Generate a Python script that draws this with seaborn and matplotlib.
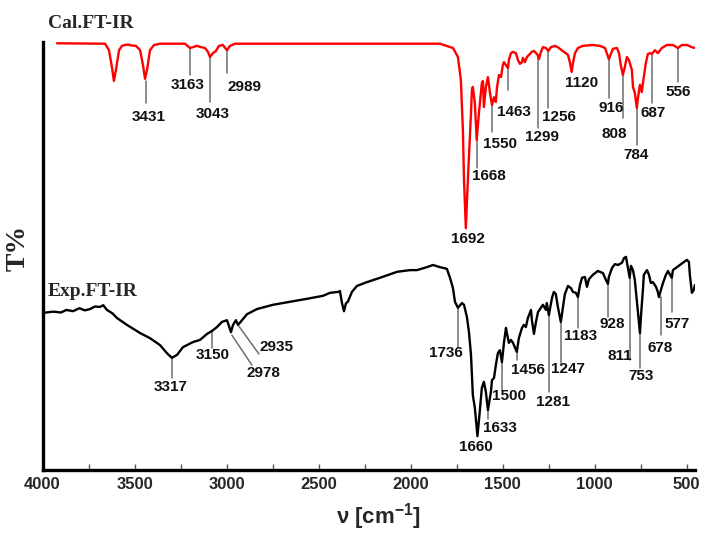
import matplotlib
matplotlib.use("Agg")
import matplotlib.pyplot as plt
from matplotlib.ticker import MultipleLocator
import pandas as pd
import seaborn as sns

# Calculated spectrum (wavenumber, T%)
cal_wn = [3921, 3660, 3639, 3622, 3612, 3601, 3584, 3568, 3552, 3536, 3519, 3492,
          3470, 3454, 3443, 3432, 3416, 3394, 3362, 3226, 3199, 3182, 3161, 3139,
          3117, 3101, 3090, 3074, 3058, 3041, 3020, 2998, 2981, 2954, 1841, 1770,
          1743, 1727, 1716, 1710, 1700, 1689, 1672, 1667, 1662, 1651, 1641, 1629,
          1613, 1607, 1602, 1591, 1580, 1569, 1558, 1547, 1537, 1531, 1520, 1509,
          1499, 1493, 1482, 1471, 1466, 1455, 1444, 1428, 1417, 1406, 1395, 1390,
          1379, 1368, 1357, 1341, 1330, 1310, 1303, 1292, 1281, 1265, 1252, 1238,
          1216, 1194, 1189, 1173, 1156, 1145, 1135, 1125, 1118, 1107, 1091, 1064,
          1010, 972, 944, 934, 923, 912, 901, 879, 868, 858, 847, 836, 825, 814,
          798, 792, 782, 771, 765, 754, 744, 738, 722, 711, 700, 689, 673, 657,
          635, 608, 575, 548, 526, 499, 472, 456]
cal_t = [99.7, 99.6, 98.1, 93.9, 90.9, 93.5, 98.1, 99.1, 99.3, 99.4, 99.2, 99.1,
         98.1, 94.6, 91.4, 93.5, 98.1, 99.3, 99.6, 99.6, 98.6, 98.8, 99.1, 98.8,
         98.6, 97.7, 96.5, 97.4, 97.9, 99.1, 99.3, 98.1, 99.1, 99.6, 99.6, 98.6,
         96.5, 91.1, 79.4, 67.8, 56.5, 67.8, 83.4, 88.8, 89.5, 85.7, 77.1, 83.4,
         90.4, 90.9, 84.8, 89.5, 91.8, 88.1, 85.3, 87.1, 86.0, 89.3, 92.3, 91.8,
         94.6, 95.3, 94.6, 93.9, 95.8, 97.4, 97.7, 97.4, 95.8, 94.9, 95.3, 96.3,
         95.3, 96.5, 97.0, 97.7, 97.9, 97.0, 96.0, 97.7, 98.8, 98.6, 97.9, 98.8,
         99.1, 98.6, 98.4, 97.9, 97.4, 97.0, 95.3, 93.0, 95.1, 97.4, 98.6, 99.1,
         99.3, 99.1, 98.6, 97.4, 96.0, 97.2, 98.4, 98.6, 97.4, 94.6, 92.3, 94.2,
         96.5, 95.8, 93.5, 89.5, 88.1, 84.6, 86.9, 90.0, 88.3, 90.4, 95.1, 97.2,
         97.4, 97.2, 98.1, 97.4, 98.6, 99.3, 99.3, 98.6, 99.3, 99.3, 98.8, 98.6]

# Experimental spectrum (wavenumber, T%)
exp_wn = [4000, 3940, 3900, 3870, 3834, 3800, 3770, 3742, 3715, 3688, 3670, 3650,
          3620, 3595, 3541, 3470, 3416, 3362, 3324, 3297, 3269, 3237, 3182, 3144,
          3106, 3079, 3052, 3025, 2998, 2992, 2976, 2965, 2949, 2938, 2916, 2889,
          2835, 2748, 2656, 2563, 2476, 2438, 2395, 2384, 2373, 2362, 2351, 2341,
          2319, 2292, 2237, 2167, 2074, 2004, 1966, 1911, 1879, 1841, 1803, 1786,
          1770, 1759, 1743, 1721, 1710, 1694, 1683, 1672, 1662, 1651, 1637, 1626,
          1613, 1602, 1591, 1580, 1564, 1558, 1547, 1537, 1526, 1515, 1504, 1493,
          1482, 1477, 1466, 1455, 1444, 1439, 1423, 1412, 1395, 1385, 1374, 1363,
          1346, 1341, 1330, 1319, 1308, 1292, 1281, 1265, 1260, 1249, 1232, 1222,
          1211, 1200, 1184, 1173, 1162, 1145, 1129, 1118, 1102, 1091, 1080, 1069,
          1053, 1042, 1031, 1010, 983, 955, 939, 928, 923, 906, 890, 874, 852, 841,
          830, 820, 810, 803, 792, 782, 771, 765, 754, 749, 738, 733, 716, 705, 695,
          684, 667, 657, 651, 640, 629, 613, 602, 581, 575, 553, 537, 521, 499, 488,
          483, 472, 461, 456]
exp_t = [36.7, 37.0, 36.8, 37.4, 37.1, 37.8, 37.3, 37.6, 38.2, 38.1, 38.5, 37.4,
         36.6, 35.5, 33.9, 32.0, 30.8, 29.2, 27.3, 26.2, 26.9, 28.7, 29.9, 30.4,
         31.8, 32.5, 33.4, 34.6, 35.0, 34.3, 32.2, 33.9, 35.0, 33.9, 35.0, 36.4,
         37.6, 38.6, 39.3, 40.0, 40.7, 41.4, 41.6, 41.8, 39.0, 37.1, 39.0, 39.3,
         41.6, 43.0, 43.9, 44.9, 46.3, 46.7, 46.7, 47.4, 47.9, 47.4, 47.0, 44.9,
         42.5, 39.3, 37.9, 39.0, 38.6, 35.7, 32.2, 26.9, 17.5, 14.5, 7.9, 12.9,
         19.2, 20.6, 18.2, 14.0, 18.2, 21.0, 21.5, 24.5, 27.3, 28.0, 25.2, 29.7,
         33.2, 32.0, 29.7, 30.4, 29.7, 29.2, 27.6, 30.8, 33.2, 33.9, 33.4, 35.5,
         37.4, 35.0, 31.8, 34.6, 36.9, 37.9, 38.6, 37.4, 39.0, 36.2, 40.2, 41.6,
         41.1, 38.1, 34.6, 37.9, 41.1, 43.0, 42.5, 41.6, 41.4, 40.4, 43.2, 44.9,
         45.1, 42.8, 44.6, 45.6, 46.5, 46.0, 44.4, 43.5, 45.1, 47.2, 48.1, 47.9,
         48.4, 49.5, 49.8, 47.4, 44.9, 47.7, 46.7, 44.4, 39.7, 36.9, 32.0, 35.7,
         42.1, 45.6, 46.7, 45.6, 43.7, 43.9, 42.8, 41.6, 40.4, 42.1, 43.7, 45.6,
         46.5, 44.9, 46.7, 47.4, 47.9, 48.4, 49.1, 48.6, 45.6, 41.4, 42.1, 43.2]

# Peak labels: (text, line from (x0, y0) to (x1, y1), text centre (tx, ty))
cal_notes = [
    ("3431", 3438, 90.9, 3438, 85.7, 3421, 82.5),
    ("3163", 3199, 98.6, 3199, 92.3, 3210, 90.0),
    ("3043", 3090, 96.5, 3090, 86.0, 3074, 83.2),
    ("2989", 2998, 98.1, 2998, 92.8, 2905, 89.5),
    ("1692", None, None, None, None, 1690, 54.0),
    ("1668", 1641, 77.1, 1641, 70.6, 1575, 68.7),
    ("1550", 1558, 85.3, 1558, 79.0, 1515, 76.2),
    ("1463", 1471, 93.9, 1471, 88.8, 1439, 83.6),
    ("1299", 1310, 97.0, 1310, 79.9, 1287, 77.8),
    ("1256", 1252, 97.9, 1252, 84.6, 1194, 82.5),
    ("1120", None, None, None, None, 1069, 90.4),
    ("916", 923, 96.0, 923, 86.9, 912, 84.6),
    ("808", 847, 92.3, 847, 82.2, 896, 78.5),
    ("784", 771, 84.6, 771, 75.9, 776, 73.6),
    ("687", 689, 97.2, 689, 85.7, 684, 83.4),
    ("556", 548, 98.6, 548, 90.7, 548, 88.3),
]
exp_notes = [
    ("3317", 3297, 26.2, 3297, 21.5, 3302, 19.4),
    ("3150", 3079, 32.5, 3079, 28.5, 3074, 26.9),
    ("2978", 2971, 31.5, 2862, 24.5, 2797, 22.7),
    ("2935", 2933, 33.6, 2824, 27.1, 2726, 28.7),
    ("1736", 1743, 37.9, 1743, 28.7, 1808, 27.3),
    ("1660", None, None, None, None, 1645, 5.4),
    ("1633", 1580, 14.0, 1580, 12.0, 1515, 9.8),
    ("1500", 1501, 25.2, 1501, 18.7, 1466, 17.3),
    ("1456", 1423, 27.6, 1423, 25.7, 1363, 23.4),
    ("1281", 1249, 36.2, 1249, 18.2, 1227, 15.9),
    ("1247", 1184, 34.6, 1184, 24.5, 1145, 23.6),
    ("1183", 1091, 40.4, 1091, 33.2, 1075, 31.3),
    ("928", 928, 43.5, 928, 35.7, 906, 34.1),
    ("811", 809, 44.9, 809, 25.7, 863, 26.6),
    ("753", 752, 32.0, 752, 23.8, 749, 22.0),
    ("678", 640, 40.4, 640, 31.5, 646, 28.5),
    ("577", 581, 44.9, 581, 36.9, 553, 34.1),
]

sns.set_style("white")
sans = ["Liberation Sans", "DejaVu Sans"]
plt.rcParams["font.family"] = sans
plt.rcParams["mathtext.fontset"] = "custom"
plt.rcParams["mathtext.rm"] = "Liberation Sans:bold"
plt.rcParams["mathtext.bf"] = "Liberation Sans:bold"
plt.rcParams["mathtext.default"] = "bf"

cal_df = pd.DataFrame({"wn": cal_wn, "T": cal_t})
exp_df = pd.DataFrame({"wn": exp_wn, "T": exp_t})

fig = plt.figure(figsize=(7.01, 5.33), dpi=100)
ax = fig.add_axes([42.5 / 701, 63 / 533, 652.5 / 701, 428 / 533])

sns.lineplot(data=cal_df, x="wn", y="T", ax=ax, color="#ff0000", lw=1.7,
             sort=False, estimator=None)
sns.lineplot(data=exp_df, x="wn", y="T", ax=ax, color="black", lw=1.7,
             sort=False, estimator=None)

lead = "#6e6e6e"
for notes in (cal_notes, exp_notes):
    for lab, x0, y0, x1, y1, tx, ty in notes:
        if x0 is not None:
            ax.plot([x0, x1], [y0, y1], color=lead, lw=1.1, zorder=1)
        ax.text(tx, ty, lab, ha="center", va="center", fontsize=11,
                fontweight="bold", color="#111111")

ax.set_xlim(4000, 455)
ax.set_ylim(0, 100)
ax.xaxis.set_major_locator(MultipleLocator(500))
ax.xaxis.set_minor_locator(MultipleLocator(250))
ax.tick_params(axis="x", which="both", direction="in", bottom=True,
               length=4, width=1, pad=5, color="#555555")
ax.tick_params(axis="x", which="major", labelsize=12)
ax.set_yticks([])
for lab in ax.get_xticklabels():
    lab.set_fontweight("bold")
ax.set_xlabel("")
ax.set_ylabel("")

for side in ("top", "right"):
    ax.spines[side].set_visible(False)
for side in ("left", "bottom"):
    ax.spines[side].set_linewidth(2.4)
    ax.spines[side].set_color("black")

serif = ["Liberation Serif", "DejaVu Serif"]
fig.text(48 / 701, 1 - 24 / 533, "Cal.FT-IR", ha="left", va="center",
         fontsize=14, fontweight="bold", family=serif)
fig.text(48 / 701, 1 - 291 / 533, "Exp.FT-IR", ha="left", va="center",
         fontsize=14, fontweight="bold", family=serif)
fig.text(18 / 701, 1 - 248 / 533, "T%", ha="center", va="center", rotation=90,
         fontsize=20, fontweight="bold", family=serif)
fig.text(378 / 701, 1 - 517 / 533, r"ν [cm$^{-1}$]", ha="center", va="center",
         fontsize=16, fontweight="bold")

fig.savefig("out.png", dpi=100)
